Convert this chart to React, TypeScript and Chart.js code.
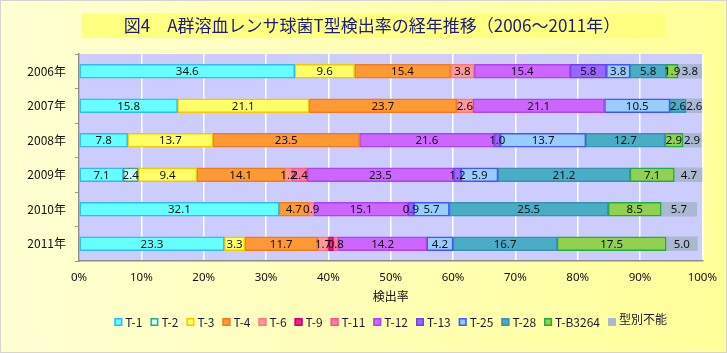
import React, { useEffect, useRef } from "react";
import { Chart, registerables } from "chart.js";
Chart.register(...registerables);

const titleText = "図4　A群溶血レンサ球菌T型検出率の経年推移（2006～2011年）";
const axisTitle = "検出率";
const years = ["2006年", "2007年", "2008年", "2009年", "2010年", "2011年"];
const xTickValues = [0, 10, 20, 30, 40, 50, 60, 70, 80, 90, 100];

const seriesNames = ["T-1", "T-2", "T-3", "T-4", "T-6", "T-9", "T-11", "T-12", "T-13", "T-25", "T-28", "T-B3264", "型別不能"];
const t1 = [34.6, 15.8, 7.8, 7.1, 32.1, 23.3];
const t2 = [0, 0, 0, 2.4, 0, 0];
const t3 = [9.6, 21.1, 13.7, 9.4, 0, 3.3];
const t4 = [15.4, 23.7, 23.5, 14.1, 4.7, 11.7];
const t6 = [3.8, 2.6, 0, 1.2, 0.9, 1.7];
const t9 = [0, 0, 0, 0, 0, 0.8];
const t11 = [0, 0, 0, 2.4, 0, 0.8];
const t12 = [15.4, 21.1, 21.6, 23.5, 15.1, 14.2];
const t13 = [5.8, 0, 1.0, 1.2, 0.9, 0];
const t25 = [3.8, 10.5, 13.7, 5.9, 5.7, 4.2];
const t28 = [5.8, 2.6, 12.7, 21.2, 25.5, 16.7];
const tb3264 = [1.9, 0, 2.9, 7.1, 8.5, 17.5];
const untypable = [3.8, 2.6, 2.9, 4.7, 5.7, 5.0];
const seriesValues = [t1, t2, t3, t4, t6, t9, t11, t12, t13, t25, t28, tb3264, untypable];

const fills = ["#66FFFF", "#CCFFFF", "#FFFF66", "#FF9933", "#FF9999", "#EE2288", "#FF7AA2", "#CC66FF", "#9966FF", "#99CCFF", "#4BACC6", "#92D050", "#AAB8D2"];
const borders = ["#33BBEE", "#33AA77", "#F5C800", "#F07A20", "#FF7777", "#CC0077", "#FF5588", "#AA44EE", "#7040F0", "#4455FF", "#3A90B2", "#22AA44", "#AAB8D2"];

const FONT_JP = "'Noto Sans CJK JP', 'Noto Sans', sans-serif";
const FONT_NUM = "'Noto Sans', 'Noto Sans CJK JP', sans-serif";

const decorPlugin = {
  id: "decor",
  beforeDraw(chart: any) {
    const { ctx, width, height, chartArea } = chart;
    ctx.save();
    const g = ctx.createLinearGradient(0, 0, width, 0);
    g.addColorStop(0, "#FFFFD4");
    g.addColorStop(1, "#FFFF99");
    ctx.fillStyle = g;
    ctx.fillRect(0, 0, width, height);
    ctx.strokeStyle = "#D4D4D4";
    ctx.lineWidth = 1;
    ctx.strokeRect(0.5, 0.5, width - 1, height - 1);
    // title box
    ctx.fillStyle = "#FFFF80";
    ctx.fillRect(82, 13, 583, 25);
    ctx.fillStyle = "#1C1C78";
    ctx.font = "17px " + FONT_JP;
    ctx.textAlign = "center";
    ctx.textBaseline = "middle";
    ctx.fillText(titleText, 372, 26);
    // plot background
    ctx.fillStyle = "#CCCCFF";
    ctx.fillRect(chartArea.left, chartArea.top, chartArea.right - chartArea.left, chartArea.bottom - chartArea.top);
    ctx.restore();
  },
  afterDatasetsDraw(chart: any) {
    const { ctx } = chart;
    ctx.save();
    ctx.font = "11.5px " + FONT_NUM;
    ctx.fillStyle = "#111111";
    ctx.textAlign = "center";
    ctx.textBaseline = "middle";
    const n = chart.data.datasets.length;
    const nLabels = chart.data.labels.length;
    for (let j = 0; j < nLabels; j++) {
      const items: { cx: number; y: number; text: string }[] = [];
      for (let i = 0; i < n; i++) {
        const v = chart.data.datasets[i].data[j];
        if (!v) continue;
        const el: any = chart.getDatasetMeta(i).data[j];
        items.push({ cx: (el.x + el.base) / 2, y: el.y, text: v.toFixed(1) });
      }
      items.forEach((it, k) => {
        const next = items[k + 1];
        if (next && Math.abs(next.cx - it.cx) < 6) return;
        ctx.fillText(it.text, it.cx, it.y + 0.5);
      });
    }
    ctx.restore();
  },
  afterDraw(chart: any) {
    const { ctx, chartArea } = chart;
    ctx.save();
    ctx.font = "12px " + FONT_JP;
    ctx.textBaseline = "middle";
    ctx.textAlign = "left";
    const box = 8, gapTxt = 3, gapItem = 8;
    const widths = seriesNames.map((n) => ctx.measureText(n).width);
    let total = 0;
    widths.forEach((w, i) => { total += box + gapTxt + w + (i < widths.length - 1 ? gapItem : 0); });
    let x = (chartArea.left + chartArea.right) / 2 - total / 2;
    const y = 322;
    seriesNames.forEach((n, i) => {
      ctx.fillStyle = fills[i];
      ctx.fillRect(x, y - box / 2, box, box);
      if (i < seriesNames.length - 1) {
        ctx.strokeStyle = borders[i];
        ctx.lineWidth = 1.5;
        ctx.strokeRect(x + 0.75, y - box / 2 + 0.75, box - 1.5, box - 1.5);
      }
      ctx.fillStyle = "#1A1A30";
      ctx.fillText(n, x + box + gapTxt, i < seriesNames.length - 1 ? y : y - 3);
      x += box + gapTxt + widths[i] + gapItem;
    });
    ctx.restore();
  },
};

export default function App() {
  const ref = useRef<HTMLCanvasElement>(null);
  useEffect(() => {
    const canvas = ref.current!;
    const chart = new Chart(canvas, {
      type: "bar",
      data: {
        labels: years,
        datasets: seriesNames.map((name, i) => ({
          label: name,
          data: seriesValues[i],
          backgroundColor: fills[i],
          borderColor: borders[i],
          borderWidth: i < seriesNames.length - 1 ? 1.5 : 0,
          borderSkipped: false,
          barThickness: 14,
        })),
      },
      options: {
        indexAxis: "y",
        responsive: false,
        animation: false,
        layout: { padding: { top: 54, right: 24, left: 0, bottom: 0 } },
        plugins: { legend: { display: false }, title: { display: false }, tooltip: { enabled: false } },
        scales: {
          x: {
            stacked: true,
            min: 0,
            max: 100,
            afterBuildTicks: (scale: any) => { scale.ticks = xTickValues.map((v) => ({ value: v })); },
            afterFit: (scale: any) => { scale.height = 92; },
            grid: { color: "#FFFFFF", lineWidth: 1.5, drawTicks: false },
            border: { display: true, color: "#8C8C8C", width: 1.5 },
            ticks: {
              padding: 10,
              color: "#111111",
              font: { size: 11.5, family: FONT_NUM },
              callback: (v: any) => v + "%",
              maxRotation: 0,
            },
            title: {
              display: true,
              text: axisTitle,
              color: "#111111",
              font: { size: 12, family: FONT_JP },
              padding: { top: 4, bottom: 49 },
            },
          },
          y: {
            stacked: true,
            afterFit: (scale: any) => { scale.width = 79; },
            grid: { offset: true, drawOnChartArea: false, tickLength: 4, color: "#999999" },
            border: { display: true, color: "#8C8C8C", width: 1.5 },
            ticks: { padding: 9, color: "#111111", font: { size: 12, family: FONT_JP } },
          },
        },
      },
      plugins: [decorPlugin],
    } as any);
    return () => chart.destroy();
  }, []);
  return (
    <div style={{ position: "fixed", left: 0, top: 0, width: 727, height: 353 }}>
      <canvas ref={ref} width={727} height={353} style={{ display: "block", width: 727, height: 353 }} />
    </div>
  );
}
